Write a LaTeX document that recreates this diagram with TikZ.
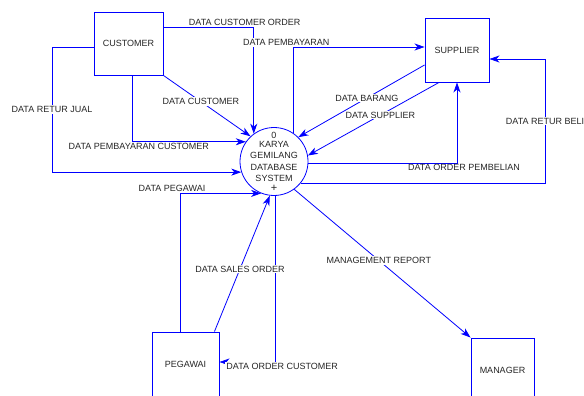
\documentclass[tikz,border=0pt]{standalone}
\usepackage{fontspec}
\setmainfont{Liberation Sans}
\usetikzlibrary{arrows.meta,positioning,calc}
\tikzset{
  entitas/.style={draw=blue,line width=0.9pt,fill=white,minimum width=67pt,minimum height=64pt,
                  inner sep=0pt,font=\fontsize{9}{10}\selectfont,text=black!85},
  proses/.style={draw=blue,line width=0.8pt,fill=white,circle,minimum size=68pt,inner sep=0pt,
                 align=center,font=\fontsize{9}{11.3}\selectfont,text=black!85},
  teks/.style={inner sep=0pt,font=\fontsize{9}{10}\selectfont,text=black!85},
  alir/.style={draw=blue,line width=0.8pt,-{Stealth[length=10pt,width=7pt,inset=3pt]}},
  ket/.style={font=\fontsize{9}{10}\selectfont,text=black!85,fill=white,inner sep=1pt},
}

\begin{document}
\begin{tikzpicture}[x=1pt,y=-1pt]
  \useasboundingbox (0,0) rectangle (584,396);
  \clip (0,0) rectangle (584,396);

  \node[entitas,minimum width=69pt,minimum height=63pt] (cust) at (128.5,43.5) {CUSTOMER};
  \node[entitas,minimum width=64pt] (supp) at (457,50) {SUPPLIER};
  \node[entitas] (peg) at (185.5,364) {PEGAWAI};
  \node[entitas,minimum width=63pt] (mgr) at (502.5,370) {MANAGER};
  \node[proses] (db) at (274,161.5) {KARYA\\GEMILANG\\DATABASE\\SYSTEM};
  \node[teks] (db-nomor) at ([yshift=-8.2pt]db.north) {0};
  \node[teks,font=\fontsize{11}{12}\selectfont] (db-tanda) at ([yshift=7.2pt]db.south) {+};

  \draw[alir] (cust.east |- 0,27) -| node[ket,above,pos=0.45] {DATA CUSTOMER ORDER} (db.126);
  \draw[alir] (db.56) |- node[ket,above,pos=0.5,xshift=-7pt] {DATA PEMBAYARAN} (supp.west |- 0,47);
  \draw[alir] (cust.south east) -- node[ket,pos=0.43] {DATA CUSTOMER} (db.133);
  \draw[alir] (cust.south -| 132,0) |- node[ket,below,pos=0.53] {DATA PEMBAYARAN CUSTOMER} (db.145);
  \draw[alir] (cust.west |- 0,47) -| node[ket,pos=0.75] {DATA RETUR JUAL} (db.198 -| 52,0) -- (db.198);
  \draw[alir] (peg.north -| 180,0) |- node[ket,above,pos=0.5,xshift=-8pt] {DATA PEGAWAI} (db.248);
  \draw[alir] (db.272) |- node[ket,below,pos=0.5,xshift=7pt] {DATA ORDER CUSTOMER} (peg.east |- 0,362);
  \draw[alir] ([xshift=-5pt]peg.north east) -- node[ket,pos=0.46] {DATA SALES ORDER} (db.263);

  \draw[alir] (supp.west |- 0,65) -- node[ket,pos=0.457] {DATA BARANG} (db.45);
  \draw[alir] (supp.south -| 439,0) -- node[ket,pos=0.447] {DATA SUPPLIER} (db.10);
  \draw[alir] (db.357) -| node[ket,below,pos=0.5,xshift=7pt] {DATA ORDER PEMBELIAN} (supp.south);
  \draw[alir] (db.321) -| node[ket,pos=0.75] {DATA RETUR BELI} (545,59) -- (supp.east |- 0,59);

  \draw[alir] (db.306) -- node[ket,pos=0.48] {MANAGEMENT REPORT} (mgr.north west);
\end{tikzpicture}
\end{document}
